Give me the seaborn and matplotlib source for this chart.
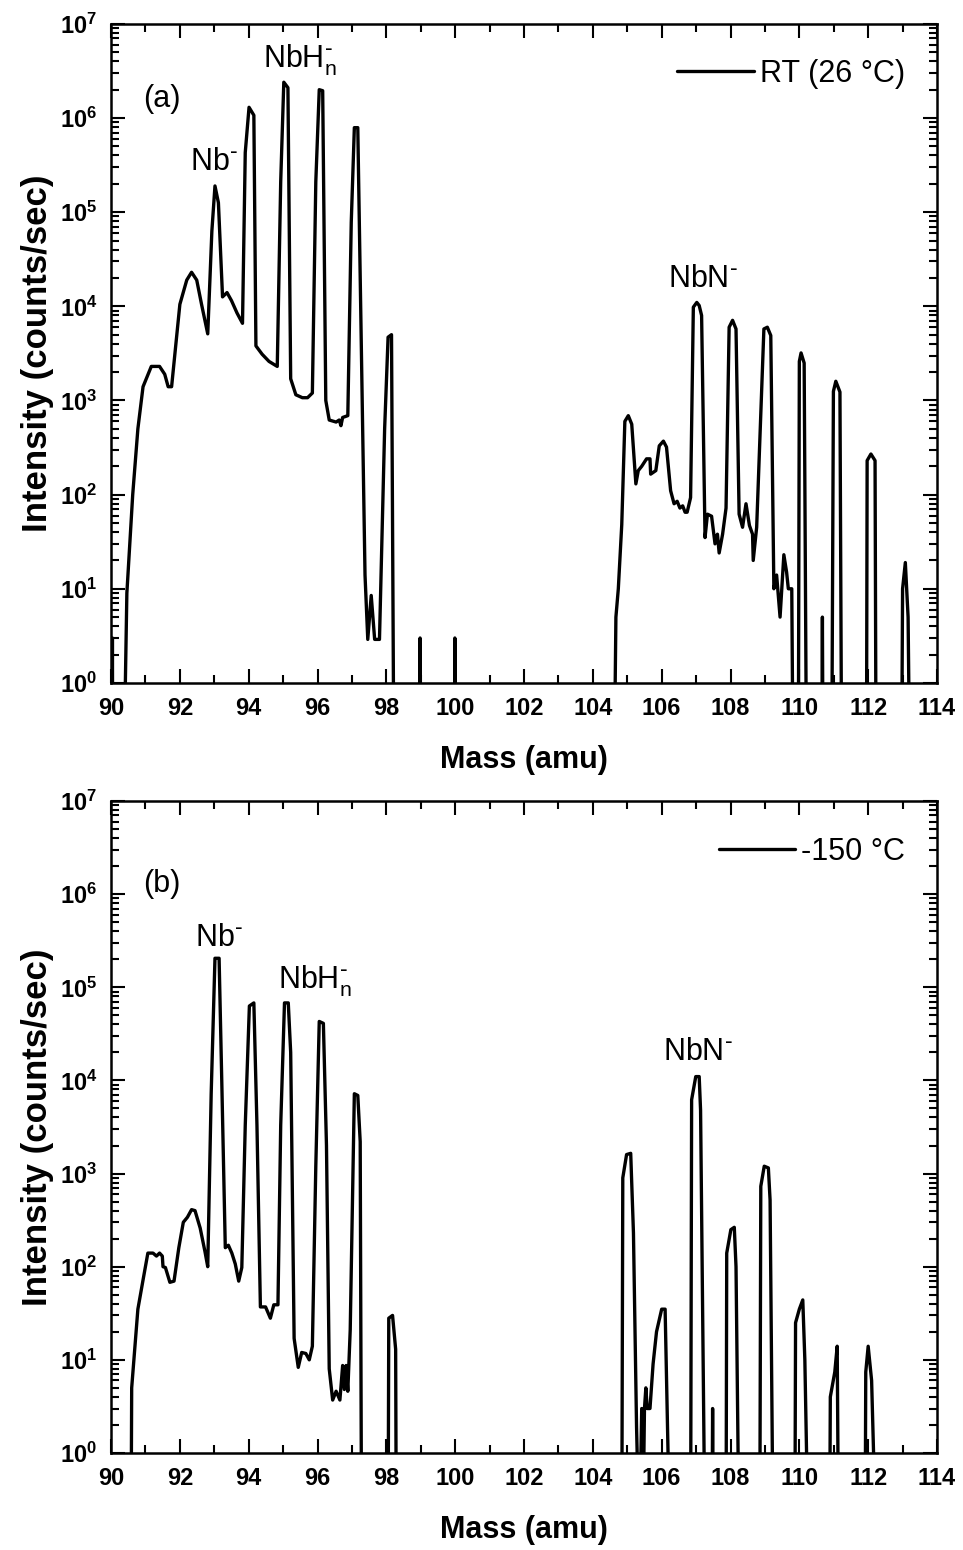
import matplotlib
matplotlib.use("Agg")
import matplotlib.pyplot as plt
import matplotlib.ticker as mticker
import pandas as pd
import seaborn as sns

sns.set_style("ticks")
plt.rcParams["font.family"] = ["Liberation Sans", "DejaVu Sans"]
plt.rcParams["mathtext.default"] = "regular"
plt.rcParams["text.color"] = "black"
plt.rcParams["axes.labelcolor"] = "black"
plt.rcParams["xtick.color"] = "black"
plt.rcParams["ytick.color"] = "black"

# (a) room temperature spectrum: mass (amu) vs counts/sec, 0.1 = nothing detected
rt_mass = [
    90.03, 90.04, 90.05, 90.37, 90.46, 90.63, 90.78, 90.93, 91.17, 91.41, 91.56, 91.66, 91.76,
    92.0, 92.2, 92.34, 92.49, 92.63, 92.81, 92.93, 93.02, 93.12, 93.24, 93.37, 93.5, 93.66,
    93.82, 93.9, 94.01, 94.15, 94.21, 94.39, 94.59, 94.83, 94.93, 95.02, 95.14, 95.22, 95.37,
    95.56, 95.71, 95.85, 95.95, 96.05, 96.15, 96.24, 96.34, 96.54, 96.63, 96.68, 96.73, 96.88,
    96.98, 97.07, 97.17, 97.38, 97.46, 97.56, 97.66, 97.71, 97.8, 97.95, 98.05, 98.15, 98.22,
    98.97, 98.98, 99.0, 99.98, 99.99, 100.01,
    104.62, 104.67, 104.74, 104.84, 104.93, 105.03, 105.13, 105.25, 105.32, 105.42, 105.56,
    105.66, 105.68, 105.83, 105.93, 106.05, 106.14, 106.26, 106.36, 106.45, 106.53, 106.61,
    106.68, 106.74, 106.84, 106.92, 107.02, 107.09, 107.16, 107.26, 107.33, 107.45, 107.55,
    107.62, 107.67, 107.77, 107.87, 107.96, 108.06, 108.16, 108.25, 108.35, 108.45, 108.55,
    108.64, 108.66, 108.76, 108.85, 108.97, 109.07, 109.17, 109.26, 109.34, 109.44, 109.55,
    109.63, 109.68, 109.78, 109.82,
    109.97, 110.0, 110.05, 110.14, 110.21,
    110.65, 110.67, 110.69,
    110.94, 110.99, 111.06, 111.18, 111.23,
    111.95, 111.97, 112.08, 112.2, 112.23,
    112.97, 113.0, 113.08, 113.16, 113.21,
]
rt_counts = [
    0.1, 3, 0.1, 0.1, 9, 100, 500, 1400, 2300, 2300, 1900, 1400, 1400,
    10500, 19000, 23000, 19000, 10500, 5100, 63000, 190000, 126000, 12600, 14000, 11500, 8500,
    6600, 430000, 1.3e6, 1.07e6, 3800, 3100, 2600, 2300, 2.1e5, 2.4e6, 2.1e6, 1700, 1150,
    1070, 1070, 1200, 2.1e5, 2.0e6, 1.95e6, 1000, 620, 590, 620, 540, 660, 690,
    78000, 7.9e5, 7.9e5, 14, 2.9, 8.5, 2.9, 2.9, 2.9, 500, 4700, 5000, 0.1,
    0.1, 3, 0.1, 0.1, 3, 0.1,
    0.1, 5, 10, 48, 600, 690, 560, 130, 180, 200, 240,
    240, 165, 180, 330, 370, 320, 110, 80, 85, 72, 76,
    65, 65, 93, 9800, 11000, 10200, 8000, 35, 62, 59, 30,
    38, 24, 38, 72, 6000, 7100, 5750, 62, 45, 80, 47,
    38, 20, 45, 370, 5750, 6000, 4900, 10, 14, 5, 23,
    15, 10, 10, 0.1,
    0.1, 2600, 3200, 2500, 0.1,
    0.1, 5, 0.1,
    0.1, 1250, 1600, 1230, 0.1,
    0.1, 230, 270, 230, 0.1,
    0.1, 10, 19, 5, 0.1,
]

# (b) -150 °C spectrum
cold_mass = [
    90.58, 90.6, 90.78, 90.93, 91.07, 91.22, 91.32, 91.41, 91.49, 91.51, 91.58, 91.71, 91.83,
    91.97, 92.1, 92.22, 92.34, 92.44, 92.59, 92.73, 92.81, 92.91, 93.02, 93.14, 93.22, 93.32,
    93.41, 93.51, 93.61, 93.71, 93.8, 93.9, 94.02, 94.15, 94.24, 94.34, 94.49, 94.63, 94.73,
    94.85, 94.93, 95.04, 95.15, 95.22, 95.32, 95.44, 95.54, 95.66, 95.76, 95.85, 95.95, 96.05,
    96.17, 96.26, 96.34, 96.44, 96.54, 96.65, 96.73, 96.78, 96.83, 96.88, 96.95, 97.07, 97.17,
    97.24, 97.28,
    98.05, 98.07, 98.18, 98.27, 98.29,
    104.84, 104.87, 104.98, 105.1, 105.18, 105.27, 105.35, 105.42, 105.45, 105.5, 105.54,
    105.58, 105.66, 105.75, 105.85, 106.0, 106.1, 106.24,
    106.84, 106.87, 106.99, 107.09, 107.13, 107.26,
    107.46, 107.48, 107.5,
    107.87, 107.89, 108.01, 108.11, 108.16, 108.25,
    108.85, 108.88, 108.98, 109.1, 109.15, 109.24,
    109.87, 109.89, 110.0, 110.1, 110.16, 110.26,
    110.88, 110.9, 111.03, 111.1, 111.14,
    111.91, 111.93, 112.0, 112.1, 112.23,
]
cold_counts = [
    0.1, 5, 35, 72, 140, 140, 130, 140, 130, 100, 98, 68, 70,
    160, 300, 340, 410, 400, 260, 145, 100, 7200, 2.05e5, 2.05e5, 9000, 160,
    170, 140, 107, 70, 98, 3300, 63000, 68000, 3300, 37, 37, 28, 39,
    39, 3300, 68000, 68000, 20000, 17, 8.3, 12, 11.7, 10, 14, 1200, 43000,
    41000, 2000, 8, 3.7, 4.6, 3.7, 8.7, 4.8, 8.7, 4.6, 21, 7200, 6900,
    2200, 0.1,
    0.1, 28, 30, 13, 0.1,
    0.1, 900, 1600, 1650, 230, 1.9, 0.1, 3, 0.1, 3, 5,
    3, 3, 9, 20, 35, 35, 0.1,
    0.1, 6200, 11000, 11000, 4800, 0.1,
    0.1, 3, 0.1,
    0.1, 140, 250, 265, 100, 0.1,
    0.1, 730, 1200, 1150, 520, 0.1,
    0.1, 25, 35, 44, 10, 0.1,
    0.1, 4, 7.4, 14, 0.1,
    0.1, 7.4, 14, 6, 0.1,
]

x_ticks = list(range(90, 115, 2))
decades = list(range(0, 8))

fig = plt.figure(figsize=(9.63, 15.5), dpi=100)
ax_top = fig.add_axes([0.1153, 0.5594, 0.8577, 0.4252])
ax_bot = fig.add_axes([0.1153, 0.0626, 0.8577, 0.4206])


def draw_panel(ax, mass, counts, label, notes, legend_y):
    df = pd.DataFrame({"mass": mass, "counts": counts})
    ax.set_yscale("log")
    sns.lineplot(data=df, x="mass", y="counts", ax=ax, sort=False, estimator=None,
                 color="black", lw=2.4, label=label)
    ax.set_xlim(90, 114)
    ax.set_ylim(1, 1e7)

    ax.set_xticks(x_ticks)
    ax.set_xticklabels([str(v) for v in x_ticks], fontsize=17, fontweight="bold")
    ax.xaxis.set_minor_locator(mticker.MultipleLocator(1))
    ax.set_yticks([10.0 ** k for k in decades])
    ax.set_yticklabels([r"$\mathregular{10^{%d}}$" % k for k in decades],
                       fontsize=17, fontweight="bold")
    ax.yaxis.set_minor_locator(mticker.LogLocator(base=10, subs=range(2, 10), numticks=20))
    ax.yaxis.set_minor_formatter(mticker.NullFormatter())

    ax.tick_params(which="both", direction="in", top=True, right=True, width=1.5, color="black")
    ax.tick_params(which="major", length=10, pad=10)
    ax.tick_params(which="minor", length=6)
    for s in ax.spines.values():
        s.set_linewidth(1.8)
        s.set_color("black")

    ax.set_xlabel("Mass (amu)", fontsize=22, fontweight="bold", labelpad=18)
    ax.set_ylabel("Intensity (counts/sec)", fontsize=25, fontweight="bold", labelpad=4)

    for text, x, y, va in notes:
        ax.text(x, y, text, fontsize=22, ha="left", va=va)

    ax.legend(loc="center right", bbox_to_anchor=(0.9613, legend_y), frameon=False,
              fontsize=22, handlelength=2.5, handletextpad=0.2, borderpad=0, borderaxespad=0)


draw_panel(ax_top, rt_mass, rt_counts, "RT (26 °C)", [
    ("(a)", 90.93, 1.6e6, "center"),
    (r"$\mathregular{Nb^{\text{-}}}$", 92.3, 2.8e5, "baseline"),
    (r"$\mathregular{NbH_n^{\text{-}}}$", 94.42, 3.43e6, "baseline"),
    (r"$\mathregular{NbN^{\text{-}}}$", 106.18, 1.6e4, "baseline"),
], 0.924)

draw_panel(ax_bot, cold_mass, cold_counts, "-150 °C", [
    ("(b)", 90.93, 1.3e6, "center"),
    (r"$\mathregular{Nb^{\text{-}}}$", 92.44, 2.8e5, "baseline"),
    (r"$\mathregular{NbH_n^{\text{-}}}$", 94.85, 9.8e4, "baseline"),
    (r"$\mathregular{NbN^{\text{-}}}$", 106.04, 1.66e4, "baseline"),
], 0.922)

fig.savefig("out.png", dpi=100, facecolor="white")
